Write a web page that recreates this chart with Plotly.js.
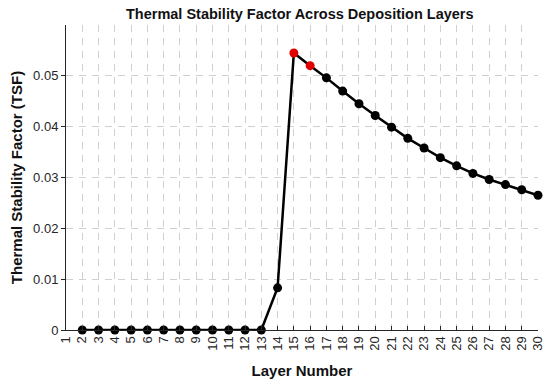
<!DOCTYPE html>
<html>
<head>
<meta charset="utf-8">
<script src="https://cdn.plot.ly/plotly-3.0.1.min.js"></script>
<style>html,body{margin:0;padding:0;background:#fff;}#chart{width:550px;height:386px;}</style>
</head>
<body>
<div id="chart"></div>
<script>
const layers = [2,3,4,5,6,7,8,9,10,11,12,13,14,15,16,17,18,19,20,21,22,23,24,25,26,27,28,29,30];
const tsf = [0,0,0,0,0,0,0,0,0,0,0,0,0.0083,0.0545,0.0520,0.0496,0.0470,0.0445,0.0422,0.0399,0.0377,0.0358,0.0339,0.0323,0.0308,0.0296,0.0286,0.0276,0.0265];
const highlightLayers = [15,16];
const xTicks = [1,2,3,4,5,6,7,8,9,10,11,12,13,14,15,16,17,18,19,20,21,22,23,24,25,26,27,28,29,30];
const yTicks = [0,0.01,0.02,0.03,0.04,0.05];
const yTickLabels = ['0','0.01','0.02','0.03','0.04','0.05'];

const markerColors = layers.map(l => highlightLayers.includes(l) ? '#e00000' : '#000000');

const trace = {
  x: layers, y: tsf, type: 'scatter', mode: 'lines+markers',
  line: {color: '#000000', width: 2.5},
  marker: {color: markerColors, size: 9},
  cliponaxis: false,
  hoverinfo: 'skip'
};

const font = 'Liberation Sans, Arial, sans-serif';
const layout = {
  width: 550, height: 386,
  margin: {l: 66, r: 12, t: 25, b: 56},
  paper_bgcolor: '#ffffff', plot_bgcolor: '#ffffff',
  showlegend: false,
  title: {text: '<b>Thermal Stability Factor Across Deposition Layers</b>', x: 0.545, xanchor: 'center', y: 0.963, yanchor: 'middle', font: {family: font, size: 14.5, color: '#111'}},
  xaxis: {
    range: [1, 30], tickvals: xTicks, ticktext: xTicks.map(String), tickangle: -90,
    tickfont: {family: font, size: 13, color: '#262626'},
    showline: true, linecolor: '#262626', linewidth: 1, mirror: false,
    ticks: 'inside', ticklen: 4, tickcolor: '#262626',
    showgrid: true, gridcolor: '#d0d0d0', gridwidth: 1, griddash: '7px,6px',
    zeroline: false, automargin: false,
    title: {text: '<b>Layer Number</b>', font: {family: font, size: 15, color: '#111'}, standoff: 15}
  },
  yaxis: {
    range: [0, 0.06], tickvals: yTicks, ticktext: yTickLabels,
    tickfont: {family: font, size: 13, color: '#262626'},
    showline: true, linecolor: '#262626', linewidth: 1, mirror: false,
    ticks: 'outside', ticklen: 4, tickcolor: '#262626',
    showgrid: true, gridcolor: '#d0d0d0', gridwidth: 1, griddash: '7px,6px',
    zeroline: false, automargin: false,
    title: {text: '<b>Thermal Stability Factor (TSF)</b>', font: {family: font, size: 15, color: '#111'}, standoff: 6}
  }
};

Plotly.newPlot('chart', [trace], layout, {staticPlot: true, displayModeBar: false});
</script>
</body>
</html>
